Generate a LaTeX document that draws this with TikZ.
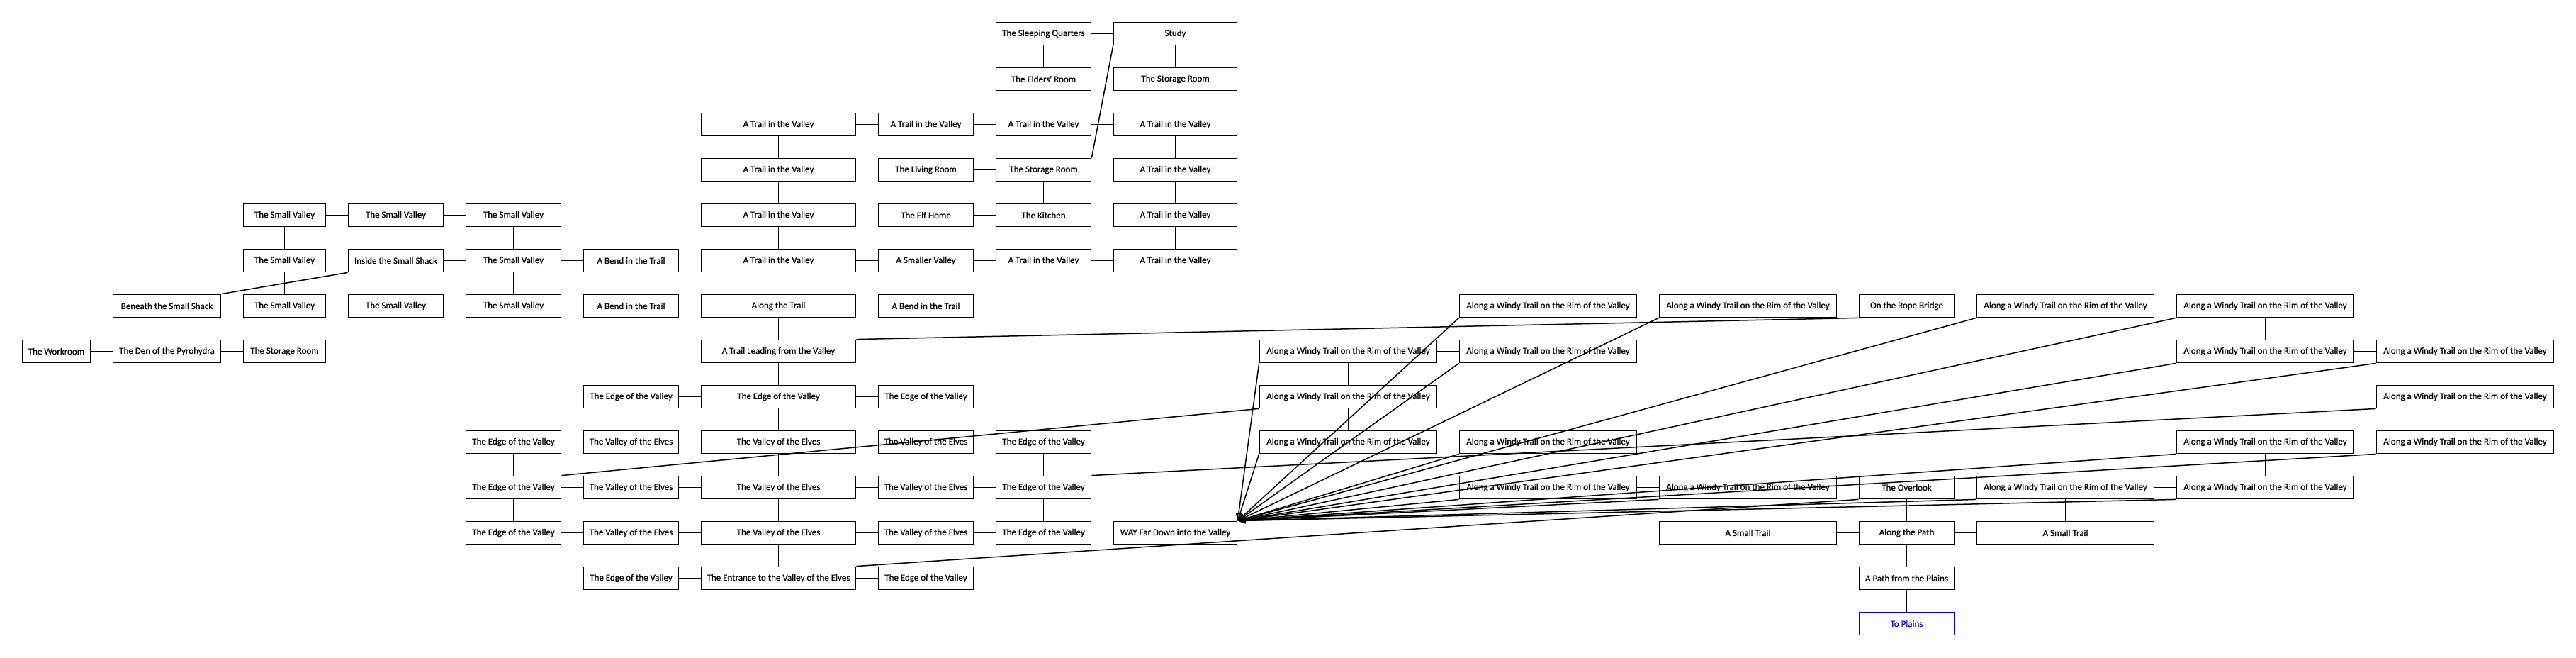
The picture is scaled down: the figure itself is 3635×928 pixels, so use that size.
\documentclass[tikz,border=0pt]{standalone}
\usepackage{fontspec}
\setmainfont{Carlito}
\newfontfamily\boxfont{Carlito}[FakeBold=0.5]
\usetikzlibrary{arrows.meta}
\newcommand\awt{Along a Windy Trail on the Rim of the Valley}
\begin{document}
\begin{tikzpicture}[x=1pt,y=-1pt,
  box/.style={draw, line width=1.8pt, minimum height=32pt, inner sep=0pt, fill=white, font=\boxfont\fontsize{13}{15}\selectfont},
  wa/.style={minimum width=96pt},
  wb/.style={minimum width=152pt},
  wc/.style={minimum width=116pt},
  wd/.style={minimum width=134pt},
  we/.style={minimum width=174pt},
  wf/.style={minimum width=218pt},
  wg/.style={minimum width=250pt},
  conn/.style={draw, line width=1.5pt},
  oneway/.style={draw, line width=1.5pt, -{Triangle[open,length=11pt,width=8pt]}},
  exit/.style={draw=blue, text=blue}]
\fill[white] (0,0) rectangle (3635,928);
\useasboundingbox (0,0) rectangle (3635,928);
% row 1
\node[box,wd] (r1c9) at (1472.5,47.5) {The Sleeping Quarters};
\node[box,we] (r1c10) at (1658.5,47.5) {Study};
% row 2
\node[box,wd] (r2c9) at (1472.5,111.5) {The Elders' Room};
\node[box,we] (r2c10) at (1658.5,111.5) {The Storage Room};
% row 3
\node[box,wf] (r3c7) at (1098.5,175.5) {A Trail in the Valley};
\node[box,wd] (r3c8) at (1306.5,175.5) {A Trail in the Valley};
\node[box,wd] (r3c9) at (1472.5,175.5) {A Trail in the Valley};
\node[box,we] (r3c10) at (1658.5,175.5) {A Trail in the Valley};
% row 4
\node[box,wf] (r4c7) at (1098.5,239.5) {A Trail in the Valley};
\node[box,wd] (r4c8) at (1306.5,239.5) {The Living Room};
\node[box,wd] (r4c9) at (1472.5,239.5) {The Storage Room};
\node[box,we] (r4c10) at (1658.5,239.5) {A Trail in the Valley};
% row 5
\node[box,wc] (r5c3) at (401.5,303.5) {The Small Valley};
\node[box,wd] (r5c4) at (558.5,303.5) {The Small Valley};
\node[box,wd] (r5c5) at (724.5,303.5) {The Small Valley};
\node[box,wf] (r5c7) at (1098.5,303.5) {A Trail in the Valley};
\node[box,wd] (r5c8) at (1306.5,303.5) {The Elf Home};
\node[box,wd] (r5c9) at (1472.5,303.5) {The Kitchen};
\node[box,we] (r5c10) at (1658.5,303.5) {A Trail in the Valley};
% row 6
\node[box,wc] (r6c3) at (401.5,367.5) {The Small Valley};
\node[box,wd] (r6c4) at (558.5,367.5) {Inside the Small Shack};
\node[box,wd] (r6c5) at (724.5,367.5) {The Small Valley};
\node[box,wd] (r6c6) at (890.5,367.5) {A Bend in the Trail};
\node[box,wf] (r6c7) at (1098.5,367.5) {A Trail in the Valley};
\node[box,wd] (r6c8) at (1306.5,367.5) {A Smaller Valley};
\node[box,wd] (r6c9) at (1472.5,367.5) {A Trail in the Valley};
\node[box,we] (r6c10) at (1658.5,367.5) {A Trail in the Valley};
% row 7
\node[box,wb] (r7c2) at (235.5,431.5) {Beneath the Small Shack};
\node[box,wc] (r7c3) at (401.5,431.5) {The Small Valley};
\node[box,wd] (r7c4) at (558.5,431.5) {The Small Valley};
\node[box,wd] (r7c5) at (724.5,431.5) {The Small Valley};
\node[box,wd] (r7c6) at (890.5,431.5) {A Bend in the Trail};
\node[box,wf] (r7c7) at (1098.5,431.5) {Along the Trail};
\node[box,wd] (r7c8) at (1306.5,431.5) {A Bend in the Trail};
\node[box,wg] (r7c12) at (2184.5,431.5) {\awt};
\node[box,wg] (r7c13) at (2466.5,431.5) {\awt};
\node[box,wd] (r7c14) at (2690.5,431.5) {On the Rope Bridge};
\node[box,wg] (r7c15) at (2914.5,431.5) {\awt};
\node[box,wg] (r7c16) at (3196.5,431.5) {\awt};
% row 8
\node[box,wa] (r8c1) at (79.5,495.5) {The Workroom};
\node[box,wb] (r8c2) at (235.5,495.5) {The Den of the Pyrohydra};
\node[box,wc] (r8c3) at (401.5,495.5) {The Storage Room};
\node[box,wf] (r8c7) at (1098.5,495.5) {A Trail Leading from the Valley};
\node[box,wg] (r8c11) at (1902.5,495.5) {\awt};
\node[box,wg] (r8c12) at (2184.5,495.5) {\awt};
\node[box,wg] (r8c16) at (3196.5,495.5) {\awt};
\node[box,wg] (r8c17) at (3478.5,495.5) {\awt};
% row 9
\node[box,wd] (r9c6) at (890.5,559.5) {The Edge of the Valley};
\node[box,wf] (r9c7) at (1098.5,559.5) {The Edge of the Valley};
\node[box,wd] (r9c8) at (1306.5,559.5) {The Edge of the Valley};
\node[box,wg] (r9c11) at (1902.5,559.5) {\awt};
\node[box,wg] (r9c17) at (3478.5,559.5) {\awt};
% row 10
\node[box,wd] (r10c5) at (724.5,623.5) {The Edge of the Valley};
\node[box,wd] (r10c6) at (890.5,623.5) {The Valley of the Elves};
\node[box,wf] (r10c7) at (1098.5,623.5) {The Valley of the Elves};
\node[box,wd] (r10c8) at (1306.5,623.5) {The Valley of the Elves};
\node[box,wd] (r10c9) at (1472.5,623.5) {The Edge of the Valley};
\node[box,wg] (r10c11) at (1902.5,623.5) {\awt};
\node[box,wg] (r10c12) at (2184.5,623.5) {\awt};
\node[box,wg] (r10c16) at (3196.5,623.5) {\awt};
\node[box,wg] (r10c17) at (3478.5,623.5) {\awt};
% row 11
\node[box,wd] (r11c5) at (724.5,687.5) {The Edge of the Valley};
\node[box,wd] (r11c6) at (890.5,687.5) {The Valley of the Elves};
\node[box,wf] (r11c7) at (1098.5,687.5) {The Valley of the Elves};
\node[box,wd] (r11c8) at (1306.5,687.5) {The Valley of the Elves};
\node[box,wd] (r11c9) at (1472.5,687.5) {The Edge of the Valley};
\node[box,wg] (r11c12) at (2184.5,687.5) {\awt};
\node[box,wg] (r11c13) at (2466.5,687.5) {\awt};
\node[box,wd] (r11c14) at (2690.5,687.5) {The Overlook};
\node[box,wg] (r11c15) at (2914.5,687.5) {\awt};
\node[box,wg] (r11c16) at (3196.5,687.5) {\awt};
% row 12
\node[box,wd] (r12c5) at (724.5,751.5) {The Edge of the Valley};
\node[box,wd] (r12c6) at (890.5,751.5) {The Valley of the Elves};
\node[box,wf] (r12c7) at (1098.5,751.5) {The Valley of the Elves};
\node[box,wd] (r12c8) at (1306.5,751.5) {The Valley of the Elves};
\node[box,wd] (r12c9) at (1472.5,751.5) {The Edge of the Valley};
\node[box,we] (r12c10) at (1658.5,751.5) {WAY Far Down into the Valley};
\node[box,wg] (r12c13) at (2466.5,751.5) {A Small Trail};
\node[box,wd] (r12c14) at (2690.5,751.5) {Along the Path};
\node[box,wg] (r12c15) at (2914.5,751.5) {A Small Trail};
% row 13
\node[box,wd] (r13c6) at (890.5,815.5) {The Edge of the Valley};
\node[box,wf] (r13c7) at (1098.5,815.5) {The Entrance to the Valley of the Elves};
\node[box,wd] (r13c8) at (1306.5,815.5) {The Edge of the Valley};
\node[box,wd] (r13c14) at (2690.5,815.5) {A Path from the Plains};
% row 14
\node[box,wd,exit] (r14c14) at (2690.5,879.5) {To Plains};
% straight two-way connections
\foreach \a/\b in {r1c9/r1c10, r1c9/r2c9, r1c10/r2c10, r2c9/r2c10,
  r3c7/r3c8, r3c8/r3c9, r3c9/r3c10, r3c7/r4c7, r3c10/r4c10,
  r4c8/r4c9, r4c7/r5c7, r4c8/r5c8, r4c9/r5c9, r4c10/r5c10,
  r5c3/r5c4, r5c4/r5c5, r5c3/r6c3, r5c5/r6c5, r5c8/r5c9, r5c7/r6c7, r5c8/r6c8, r5c10/r6c10,
  r6c4/r6c5, r6c5/r6c6, r6c7/r6c8, r6c8/r6c9, r6c9/r6c10, r6c3/r7c3, r6c5/r7c5, r6c6/r7c6, r6c8/r7c8,
  r7c3/r7c4, r7c4/r7c5, r7c6/r7c7, r7c7/r7c8, r7c2/r8c2, r7c7/r8c7,
  r7c12/r7c13, r7c13/r7c14, r7c14/r7c15, r7c15/r7c16, r7c12/r8c12, r7c16/r8c16,
  r8c1/r8c2, r8c2/r8c3, r8c11/r8c12, r8c16/r8c17, r8c7/r9c7, r8c11/r9c11, r8c17/r9c17,
  r9c6/r9c7, r9c7/r9c8, r9c6/r10c6, r9c7/r10c7, r9c8/r10c8, r9c11/r10c11, r9c17/r10c17,
  r10c5/r10c6, r10c6/r10c7, r10c7/r10c8, r10c8/r10c9, r10c11/r10c12, r10c16/r10c17,
  r10c5/r11c5, r10c6/r11c6, r10c7/r11c7, r10c8/r11c8, r10c9/r11c9, r10c12/r11c12, r10c16/r11c16,
  r11c5/r11c6, r11c6/r11c7, r11c7/r11c8, r11c8/r11c9, r11c12/r11c13, r11c15/r11c16,
  r11c5/r12c5, r11c6/r12c6, r11c7/r12c7, r11c8/r12c8, r11c9/r12c9, r11c13/r12c13, r11c14/r12c14, r11c15/r12c15,
  r12c5/r12c6, r12c6/r12c7, r12c7/r12c8, r12c8/r12c9, r12c13/r12c14, r12c14/r12c15,
  r12c6/r13c6, r12c7/r13c7, r12c8/r13c8, r12c14/r13c14,
  r13c6/r13c7, r13c7/r13c8, r13c14/r14c14}
  \draw[conn] (\a) -- (\b);
% corner-to-corner connections
\draw[conn] (r7c2.north east) -- (r6c4.south west);
\draw[conn] (r1c10.south west) -- (r4c9.north east);
\draw[conn] (r8c7.north east) -- (r7c14.south west);
\draw[conn] (r11c5.north east) -- (r9c11.south west);
\draw[conn] (r11c9.north east) -- (r9c17.south west);
\draw[conn] (r13c7.north east) -- (r11c14.south west);
% one-way drops to WAY Far Down into the Valley
\foreach \a in {r7c12, r7c13, r7c15, r7c16, r8c11, r8c12, r8c16, r8c17,
  r10c11, r10c12, r10c16, r10c17, r11c12, r11c13, r11c15, r11c16}
  \draw[oneway] (\a.south west) -- (r12c10.north east);
\end{tikzpicture}
\end{document}
